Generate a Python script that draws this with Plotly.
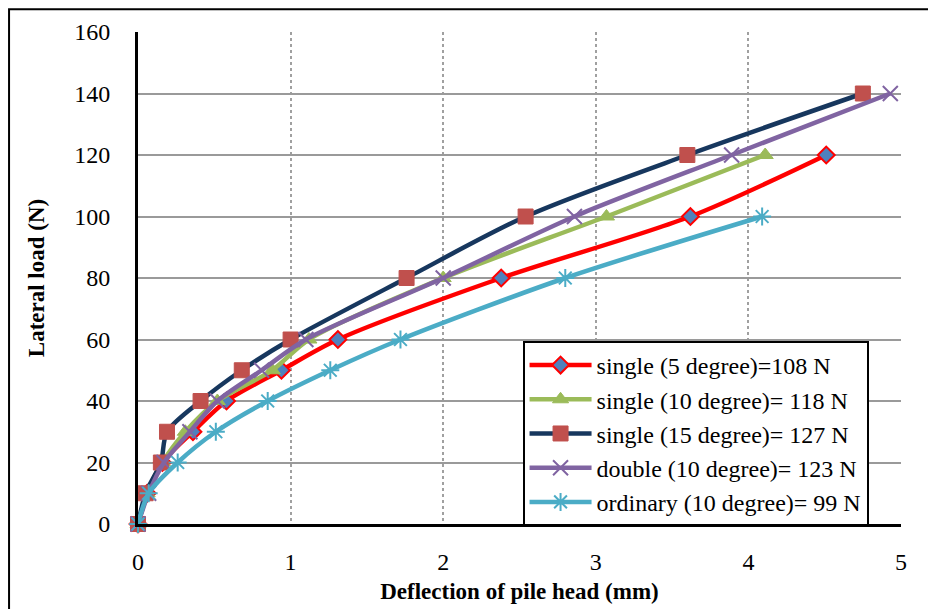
import plotly.graph_objects as go

loads = [0, 10, 20, 30, 40, 50, 60, 80, 100, 120, 140]

names = [
    "single (5 degree)=108 N",
    "single (10 degree)= 118 N",
    "single (15 degree)= 127 N",
    "double (10 degree)= 123 N",
    "ordinary (10 degree)= 99 N",
]

defl_single5 = [0, 0.06, 0.16, 0.36, 0.58, 0.94, 1.31, 2.38, 3.62, 4.51]
defl_single10 = [0, 0.06, 0.16, 0.31, 0.52, 0.88, 1.12, 2.00, 3.07, 4.11]
defl_single15 = [0, 0.05, 0.15, 0.19, 0.41, 0.68, 1.00, 1.76, 2.54, 3.60, 4.75]
defl_double10 = [0, 0.07, 0.17, 0.34, 0.52, 0.81, 1.10, 2.00, 2.86, 3.89, 4.93]
defl_ordinary10 = [0, 0.07, 0.26, 0.51, 0.85, 1.26, 1.72, 2.80, 4.09]

series = [defl_single5, defl_single10, defl_single15, defl_double10, defl_ordinary10]

styles = [
    dict(line="#FF0000", symbol="diamond", mfill="#4F81BD", mline="#FF0000", mlw=2, size=13),
    dict(line="#9BBB59", symbol="triangle-up", mfill="#9BBB59", mline="#9BBB59", mlw=1, size=14),
    dict(line="#17375E", symbol="square", mfill="#C0504D", mline="#C0504D", mlw=1, size=15),
    dict(line="#8064A2", symbol="x-thin-open", mfill="#8064A2", mline="#8064A2", mlw=2, size=15),
    dict(line="#4BACC6", symbol="asterisk-open", mfill="#4BACC6", mline="#4BACC6", mlw=2, size=15),
]

fig = go.Figure()
for name, xs, st in zip(names, series, styles):
    fig.add_trace(go.Scatter(
        x=xs, y=loads[:len(xs)], name=name, mode="lines+markers",
        line=dict(color=st["line"], width=4.5, shape="spline", smoothing=0.8),
        marker=dict(symbol=st["symbol"], size=st["size"], color=st["mfill"],
                    line=dict(color=st["mline"], width=st["mlw"])),
        cliponaxis=False,
    ))

font_family = "Liberation Serif, serif"

fig.update_layout(
    width=928, height=609,
    margin=dict(l=138, r=27, t=32, b=85, autoexpand=False),
    paper_bgcolor="white", plot_bgcolor="white",
    font=dict(family=font_family, color="black", size=24),
    showlegend=True,
    legend=dict(
        x=0.504, y=0.372, xanchor="left", yanchor="top",
        bgcolor="white", bordercolor="black", borderwidth=2,
        font=dict(family=font_family, size=24, color="black"),
        itemwidth=62, tracegroupgap=0,
    ),
    xaxis=dict(
        range=[0, 5], tickvals=[0, 1, 2, 3, 4, 5],
        showgrid=True, gridcolor="#A0A0A0", griddash="dot", gridwidth=1.5,
        showline=True, linecolor="black", linewidth=3,
        zeroline=False, ticks="", ticklabelstandoff=14,
        tickfont=dict(family=font_family, size=24),
        automargin=False,
        title=dict(text="<b>Deflection of pile head (mm)</b>",
                   font=dict(family=font_family, size=23), standoff=10),
    ),
    yaxis=dict(
        range=[0, 160], dtick=20,
        showgrid=True, gridcolor="#9A9A9A", gridwidth=2,
        showline=True, linecolor="black", linewidth=3,
        zeroline=False, ticks="", ticklabelstandoff=20,
        tickfont=dict(family=font_family, size=24),
        automargin=False,
        title=dict(text="<b>Lateral load (N)</b>",
                   font=dict(family=font_family, size=23), standoff=24),
    ),
    shapes=[
        dict(type="rect", xref="paper", yref="paper",
             x0=-0.169, x1=1.2, y0=-0.4, y1=1.046,
             line=dict(color="black", width=2), fillcolor="rgba(0,0,0,0)"),
    ],
)

fig.write_html("out.html", config={"displayModeBar": False},
               post_script="document.body.style.margin='0px';")
